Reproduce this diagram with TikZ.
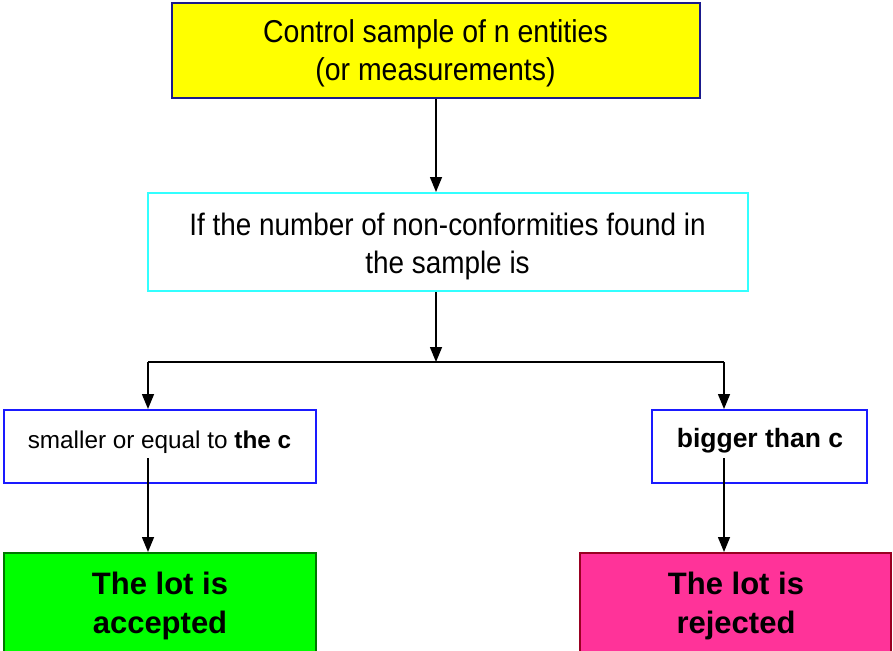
\documentclass[tikz,border=0pt]{standalone}
\usepackage{fontspec}
\setmainfont{Liberation Sans}
\newfontfamily\narrowfont{Liberation Sans}[FakeStretch=0.9]
\usetikzlibrary{arrows.meta}
\definecolor{boxyellow}{HTML}{FFFF00}
\definecolor{boxnavy}{HTML}{1A1A8C}
\definecolor{boxcyan}{HTML}{33FFFF}
\definecolor{boxblue}{HTML}{1A1AFF}
\definecolor{boxgreen}{HTML}{00FF00}
\definecolor{boxgreenline}{HTML}{007700}
\definecolor{boxpink}{HTML}{FF3399}
\definecolor{boxpinkline}{HTML}{990022}
\begin{document}
\begin{tikzpicture}[x=1pt,y=-1pt,
  boxshape/.style={draw, rectangle, inner sep=0pt, line width=2pt},
  conn/.style={line width=1.5pt, -{Triangle[length=15pt,width=12pt]}},
  plainline/.style={line width=1.5pt},
  txt/.style={inner sep=0pt, align=center, text=black}]
\useasboundingbox (0,0) rectangle (893,650);
\clip (0,0) rectangle (893,650);
% boxes
\node[boxshape, draw=boxnavy, fill=boxyellow, minimum width=528pt, minimum height=95pt] (yel) at (436,50.5) {};
\node[boxshape, draw=boxcyan, fill=white, minimum width=600pt, minimum height=98pt] (cyn) at (448,242) {};
\node[boxshape, draw=boxblue, fill=white, minimum width=312pt, minimum height=73pt] (lsm) at (160,446.5) {};
\node[boxshape, draw=boxblue, fill=white, minimum width=215pt, minimum height=73pt] (rsm) at (759.5,446.5) {};
\node[boxshape, draw=boxgreenline, fill=boxgreen, minimum width=312pt, minimum height=114pt] (acc) at (160,610) {};
\node[boxshape, draw=boxpinkline, fill=boxpink, minimum width=311pt, minimum height=114pt] (rej) at (735.5,610) {};
% texts
\node[txt, anchor=base, font=\narrowfont\fontsize{31.6}{38}\selectfont] (yeltxt) at (435.5,43)
  {Control sample of n entities};
\node[txt, anchor=base, font=\narrowfont\fontsize{31.6}{38}\selectfont] (yeltxtb) at (435.5,81)
  {(or measurements)};
\node[txt, anchor=base, font=\narrowfont\fontsize{31}{38}\selectfont] (cyntxt) at (447.5,235)
  {If the number of non-conformities found in};
\node[txt, anchor=base, font=\narrowfont\fontsize{31}{38}\selectfont] (cyntxtb) at (447.5,273)
  {the sample is};
\node[txt, anchor=base, font=\fontsize{24.3}{30}\selectfont] (lsmtxt) at (159.5,448)
  {smaller or equal to \textbf{the c}};
\node[txt, anchor=base, font=\fontsize{26.5}{30}\selectfont\bfseries] (rsmtxt) at (760,447.5)
  {bigger than c};
\node[txt, font=\fontsize{31}{39}\selectfont\bfseries] (acctxt) at (160,606)
  {The lot is\\accepted};
\node[txt, font=\fontsize{31}{39}\selectfont\bfseries] (rejtxt) at (736,606)
  {The lot is\\rejected};
% connectors
\coordinate (split) at (436,362);
\coordinate (bl) at (148,362);
\coordinate (br) at (724,362);
\coordinate (ls) at (148,458);
\coordinate (rs) at (724,458);
\draw[conn] (yel.south) -- (yel.south |- cyn.north);
\draw[conn] (cyn.south -| split) -- (split);
\draw[plainline] (bl) -- (br);
\draw[conn] (bl) -- (bl |- lsm.north);
\draw[conn] (br) -- (br |- rsm.north);
\draw[conn] (ls) -- (ls |- acc.north);
\draw[conn] (rs) -- (rs |- rej.north);
\end{tikzpicture}
\end{document}
